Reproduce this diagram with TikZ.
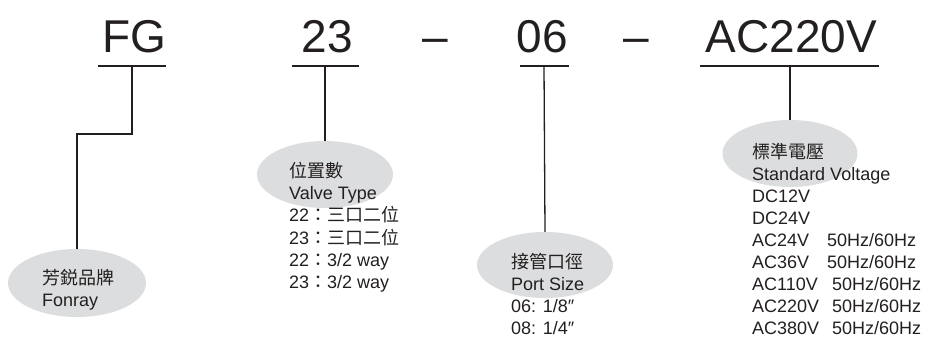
\documentclass[tikz,border=0pt]{standalone}
\usepackage{fontspec}
\setmainfont{Liberation Sans}
\newfontfamily\cjk{Noto Sans CJK TC}
\usetikzlibrary{shapes.geometric}
\definecolor{ovalgray}{RGB}{220,221,223}
\definecolor{inkc}{RGB}{35,31,32}
\begin{document}
\begin{tikzpicture}[x=1pt,y=-1pt,
  big/.style={font=\fontsize{46}{46}\selectfont, text=inkc, inner sep=0, anchor=base},
  lbl/.style={font=\fontsize{18}{22}\selectfont, text=inkc, inner sep=0, anchor=base west},
  oval/.style={ellipse, fill=ovalgray, draw=none, inner sep=0},
  ln/.style={draw=inkc, line width=1.3pt},
  conn/.style={draw=inkc, line width=1.3pt}]
\useasboundingbox (0,0) rectangle (925,338);

% ellipses
\node[oval, minimum width=138pt, minimum height=68pt] (e1) at (77,283) {};
\node[oval, minimum width=136pt, minimum height=67pt] (e2) at (325,174.5) {};
\node[oval, minimum width=136pt, minimum height=66pt] (e3) at (545,265) {};
\node[oval, minimum width=135pt, minimum height=67pt] (e4) at (790,153.5) {};

% headings
\node[big] (hFG) at (134,52) {FG};
\node[big] (h23) at (327.5,52) {23};
\node[big] (d1) at (435,52) {–};
\node[big] (h06) at (542.5,52) {06};
\node[big] (d2) at (636.5,52) {–};
\node[big] (hAC) at (791.5,52) {AC220V};

% underlines
\coordinate (uFGa) at (98,66);  \coordinate (uFGb) at (166,66);
\coordinate (u23a) at (292,66); \coordinate (u23b) at (359,66);
\coordinate (u06a) at (520,66); \coordinate (u06b) at (569,66);
\coordinate (uACa) at (700,66); \coordinate (uACb) at (879,66);
\draw[ln] (uFGa) -- (uFGb);
\draw[ln] (u23a) -- (u23b);
\draw[ln] (u06a) -- (u06b);
\draw[ln] (uACa) -- (uACb);

% connectors
\coordinate (cFG) at (132,66);
\coordinate (bend) at (132,134);
\draw[conn] (cFG) -- (bend) -| (e1.north);
\coordinate (c23) at (325,66);
\draw[conn] (c23) -- (e2.north);
\coordinate (c06) at (544,66);
\draw[conn] (c06) -- (e3.north);
\coordinate (cAC) at (790,66);
\draw[conn] (cAC) -- (e4.north);

% brand text
\node[lbl] (b1) at (42,284) {\cjk 芳鋭品牌};
\node[lbl] (b2) at (42,306) {Fonray};

% valve type text
\node[lbl] (v1) at (289,177.5) {\cjk 位置數};
\node[lbl] (v2) at (289,199.7) {Valve Type};
\node[lbl] (v3) at (289,221.9) {22{\cjk ：三口二位}};
\node[lbl] (v4) at (289,244.1) {23{\cjk ：三口二位}};
\node[lbl] (v5) at (289,266.3) {22{\cjk ：}3/2 way};
\node[lbl] (v6) at (289,288.5) {23{\cjk ：}3/2 way};

% port size text
\node[lbl] (p1) at (511,268) {\cjk 接管口徑};
\node[lbl] (p2) at (511,290) {Port Size};
\node[lbl] (p3) at (511,312) {06: 1/8″};
\node[lbl] (p4) at (511,334) {08: 1/4″};

% voltage text
\node[lbl] (s1) at (752,158) {\cjk 標準電壓};
\node[lbl] (s2) at (752,180.1) {Standard Voltage};
\node[lbl] (s3) at (752,202.2) {DC12V};
\node[lbl] (s4) at (752,224.3) {DC24V};
\node[lbl] (s5) at (752,246.4) {\makebox[75pt][l]{AC24V}50Hz/60Hz};
\node[lbl] (s6) at (752,268.5) {\makebox[75pt][l]{AC36V}50Hz/60Hz};
\node[lbl] (s7) at (752,290.6) {\makebox[80pt][l]{AC110V}50Hz/60Hz};
\node[lbl] (s8) at (752,312.7) {\makebox[80pt][l]{AC220V}50Hz/60Hz};
\node[lbl] (s9) at (752,334.8) {\makebox[80pt][l]{AC380V}50Hz/60Hz};
\end{tikzpicture}
\end{document}
